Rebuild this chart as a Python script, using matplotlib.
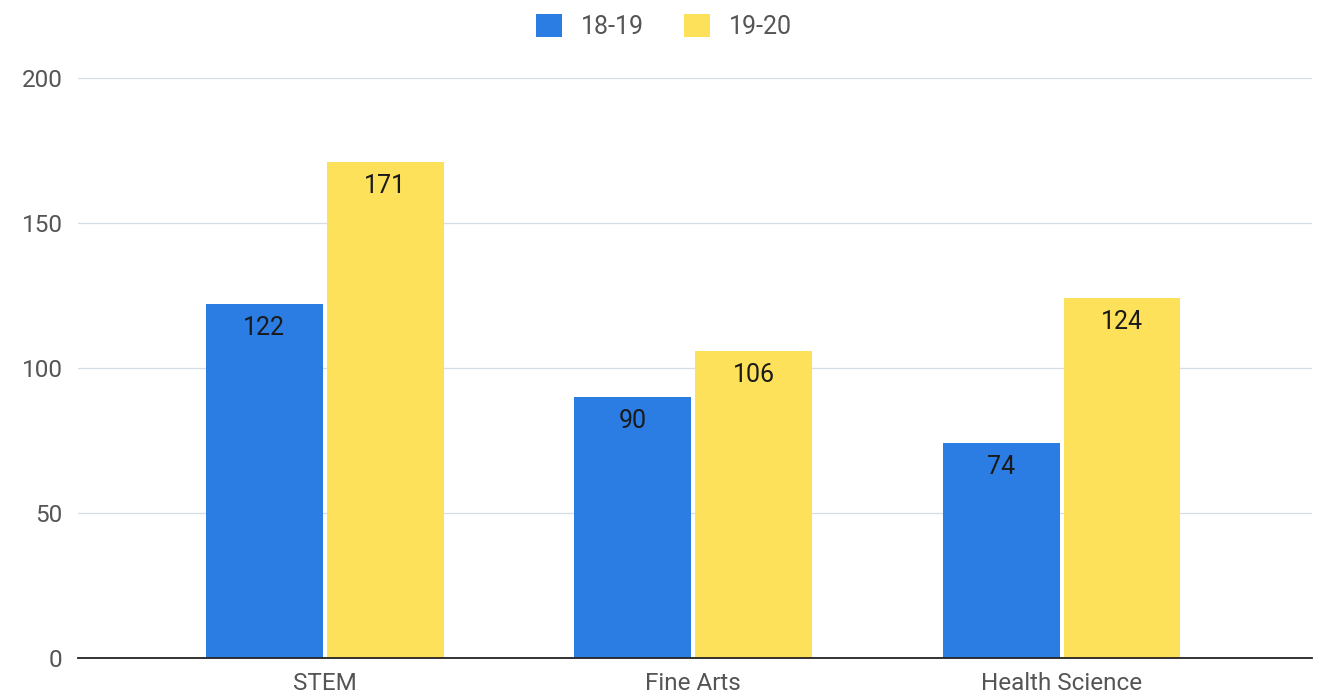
import numpy as np
import matplotlib.pyplot as plt

plt.rcParams["font.family"] = ["Roboto", "DejaVu Sans"]

categories = ["STEM", "Fine Arts", "Health Science"]
series_names = ["18-19", "19-20"]
values_1819 = [122, 90, 74]
values_1920 = [171, 106, 124]

colors = ["#2b7de3", "#fde15b"]

fig = plt.figure(figsize=(13.2, 6.99), dpi=100)
ax = fig.add_axes([0.059, 0.0587, 0.935, 0.8295])

x = np.arange(len(categories))
width = 0.317
offset = 0.164

bars1 = ax.bar(x - offset, values_1819, width, color=colors[0], label=series_names[0], zorder=3)
bars2 = ax.bar(x + offset, values_1920, width, color=colors[1], label=series_names[1], zorder=3)

# value labels inside the top of each bar
for bars in (bars1, bars2):
    for b in bars:
        ax.annotate(f"{int(b.get_height())}", (b.get_x() + b.get_width() / 2, b.get_height()),
                    xytext=(0, -24), textcoords="offset pixels", ha="center", va="center",
                    fontsize=18, color="#1a1a1a", zorder=4)

ax.set_xlim(-0.67, 2.68)
ax.set_ylim(0, 200)
ax.set_yticks([0, 50, 100, 150, 200])
ax.set_xticks(x)
ax.set_xticklabels(categories)
ax.tick_params(axis="both", length=0, colors="#555555", labelsize=17.5)
ax.tick_params(axis="y", pad=11)
ax.tick_params(axis="x", pad=10)

ax.grid(axis="y", color="#d6dce8", linewidth=0.9, zorder=0)
for s in ["top", "right", "left"]:
    ax.spines[s].set_visible(False)
ax.spines["bottom"].set_color("#222222")
ax.spines["bottom"].set_linewidth(1.3)
ax.spines["bottom"].set_zorder(5)

leg = fig.legend(loc="upper center", bbox_to_anchor=(0.503, 1.012), ncol=2, frameon=False,
                 fontsize=18, handlelength=1.05, handleheight=1.05, columnspacing=1.6,
                 handletextpad=0.75)
for t in leg.get_texts():
    t.set_color("#555555")

fig.savefig("out.png", dpi=100)
